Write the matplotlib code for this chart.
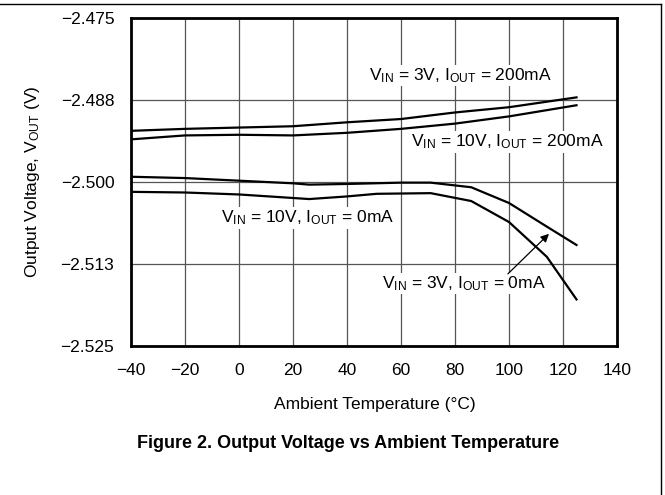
import numpy as np
import matplotlib
matplotlib.use("Agg")
import matplotlib.pyplot as plt
from matplotlib.lines import Line2D

plt.rcParams['font.family'] = ['Liberation Sans', 'DejaVu Sans']
plt.rcParams['mathtext.fontset'] = 'custom'
plt.rcParams['mathtext.rm'] = 'Liberation Sans'
plt.rcParams['mathtext.it'] = 'Liberation Sans'

# data
t_3v_200 = [-40, -20, 0, 20, 40, 60, 80, 100, 125]
v_3v_200 = [-2.4922, -2.4919, -2.4917, -2.4915, -2.4909, -2.4904, -2.4894, -2.4886, -2.4871]

t_10v_200 = [-40, -20, 0, 20, 40, 60, 80, 100, 125]
v_10v_200 = [-2.4935, -2.4929, -2.4928, -2.4929, -2.4925, -2.4919, -2.4911, -2.4900, -2.4883]

t_3v_0 = [-40, -20, 0, 20, 26, 40, 60, 71, 86, 100, 114, 125]
v_3v_0 = [-2.4992, -2.4994, -2.4998, -2.5002, -2.5004, -2.5003, -2.5001, -2.5001,
          -2.5008, -2.5032, -2.5068, -2.5096]

t_10v_0 = [-40, -20, 0, 26, 40, 51, 71, 86, 100, 114, 125]
v_10v_0 = [-2.5015, -2.5016, -2.5019, -2.5026, -2.5022, -2.5018, -2.5017, -2.5029,
           -2.5061, -2.5114, -2.5179]

xticks = [-40, -20, 0, 20, 40, 60, 80, 100, 120, 140]
yticks = [-2.525, -2.5125, -2.5, -2.4875, -2.475]
ytick_labels = ['\u22122.525', '\u22122.513', '\u22122.500', '\u22122.488', '\u22122.475']

fig = plt.figure(figsize=(6.65, 4.95), dpi=100)
ax = fig.add_axes([131 / 665, 1 - 346 / 495, 486 / 665, 328 / 495])

for t, v in [(t_3v_200, v_3v_200), (t_10v_200, v_10v_200),
             (t_3v_0, v_3v_0), (t_10v_0, v_10v_0)]:
    ax.plot(t, v, color='black', lw=1.6, zorder=3)

ax.set_xlim(-40, 140)
ax.set_ylim(-2.525, -2.475)
ax.set_xticks(xticks)
ax.set_xticklabels([str(x).replace('-', '\u2212') for x in xticks])
ax.set_yticks(yticks)
ax.set_yticklabels(ytick_labels)
ax.tick_params(length=0, labelsize=12.5)
ax.tick_params(axis='y', pad=12)
ax.tick_params(axis='x', pad=12)
ax.grid(True, color='#555555', lw=0.9)
for s in ax.spines.values():
    s.set_linewidth(2)
    s.set_color('black')

fig.text(375 / 665, 1 - 405 / 495, 'Ambient Temperature (\u00b0C)', fontsize=12.5,
         ha='center', va='center')
fig.text(33 / 665, 1 - 182 / 495, r'Output Voltage, V$_\mathrm{OUT}$ (V)', fontsize=12.5,
         ha='center', va='center', rotation=90)

fs = 12.5
box = dict(facecolor='white', edgecolor='none', pad=1)
ax.text(82, -2.4838, r'V$_\mathrm{IN}$ = 3V, I$_\mathrm{OUT}$ = 200mA', fontsize=fs,
        ha='center', va='center', bbox=box, zorder=2)
ax.text(99.3, -2.4939, r'V$_\mathrm{IN}$ = 10V, I$_\mathrm{OUT}$ = 200mA', fontsize=fs,
        ha='center', va='center', bbox=box, zorder=2)
ax.text(25.6, -2.5055, r'V$_\mathrm{IN}$ = 10V, I$_\mathrm{OUT}$ = 0mA', fontsize=fs,
        ha='center', va='center', bbox=box, zorder=2)
ax.text(83.3, -2.5155, r'V$_\mathrm{IN}$ = 3V, I$_\mathrm{OUT}$ = 0mA', fontsize=fs,
        ha='center', va='center', bbox=box, zorder=2)
ax.annotate('', xy=(114.8, -2.5079), xytext=(99.6, -2.5140),
            arrowprops=dict(arrowstyle='-|>', color='black', lw=0.9,
                            mutation_scale=12, shrinkA=0, shrinkB=0), zorder=4)

fig.text(348 / 665, 1 - 443 / 495, 'Figure 2. Output Voltage vs Ambient Temperature',
         fontsize=13, fontweight='bold', ha='center', va='center')

# page frame lines
fig.add_artist(Line2D([0, 661 / 665], [1 - 4 / 495, 1 - 4 / 495], color='black', lw=1))
fig.add_artist(Line2D([661 / 665, 661 / 665], [0, 1 - 4 / 495], color='black', lw=1))

fig.savefig('out.png', dpi=100)
